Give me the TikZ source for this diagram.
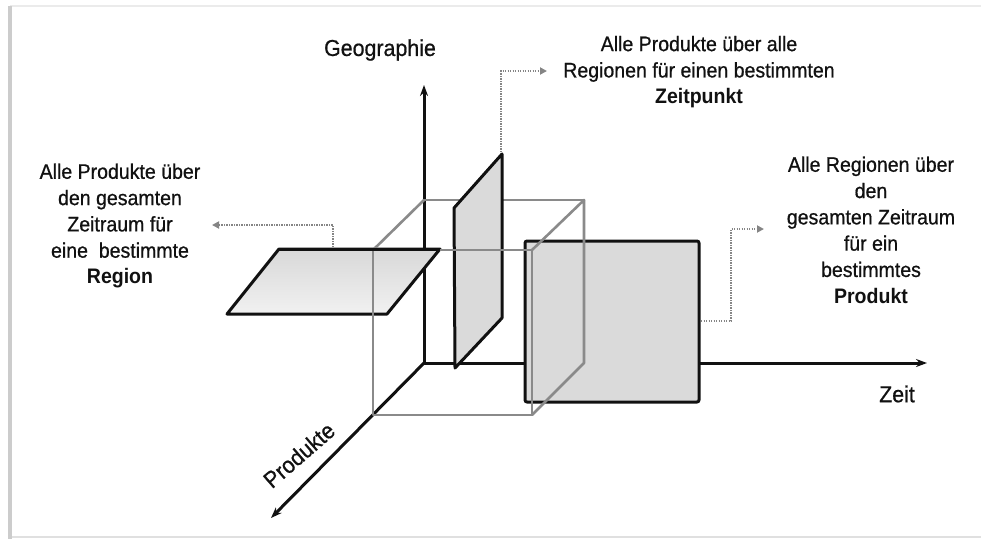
\documentclass[tikz,border=0pt]{standalone}
\usepackage{fontspec}
\setmainfont{Liberation Sans}[FakeStretch=0.93, UprightFeatures={FakeBold=0.7}]
\usetikzlibrary{arrows.meta}
\definecolor{edgegray}{HTML}{8A8A8A}
\definecolor{slicefill}{HTML}{DADADA}
\definecolor{slicetop}{HTML}{D8D8D8}
\definecolor{slicebot}{HTML}{F1F1F1}
\definecolor{dotgray}{HTML}{858585}
\definecolor{inkblack}{HTML}{111111}
\tikzset{
  axisline/.style={draw=inkblack, line width=3pt, -{Stealth[length=11pt,width=8pt]}},
  cubeedge/.style={draw=edgegray, line width=2.6pt, line cap=round, line join=round},
  slicebox/.style={draw=inkblack, line width=3pt, line join=round},
  dotconn/.style={draw=dotgray, line width=1.8pt, dash pattern=on 1.4pt off 1.1pt, -{Triangle[length=7pt,width=7pt]}},
  lbl/.style={text=inkblack, align=center, inner sep=0pt, font=\fontsize{21}{26.3}\selectfont},
  axislbl/.style={text=inkblack, inner sep=0pt, font=\fontsize{23}{26}\selectfont}
}
\begin{document}
\begin{tikzpicture}[x=1pt,y=-1pt]
\useasboundingbox (0,0) rectangle (981,539);
\fill[white] (0,0) rectangle (981,539);

% sheet edges
\draw[draw=black!8, line width=2pt] (10,6) -- (981,6);
\draw[draw=black!12, line width=1.5pt] (10,537) -- (981,537);
\fill[black!20] (8,6) rectangle (11.5,539);

% axes
\coordinate (O) at (424,363);
\coordinate (geoTip) at (424,85);
\coordinate (zeitTip) at (927,363);
\coordinate (prodTip) at (271,518);
\draw[axisline] (O) -- (geoTip);
\draw[axisline] (O) -- (zeitTip);
\draw[axisline] (O) -- (prodTip);

% cube corners
\coordinate (F1) at (373,250);
\coordinate (F2) at (532,250);
\coordinate (F3) at (532,415);
\coordinate (F4) at (373,415);
\coordinate (B1) at (424,200);
\coordinate (B2) at (584,200);
\coordinate (B3) at (584,363);

% hidden part of the back face
\draw[cubeedge] (B1) -- (B2);

% slice for one point in time
\coordinate (V1) at (454,208);
\coordinate (V2) at (502,154);
\coordinate (V3) at (502,318);
\coordinate (V4) at (455,368);
\draw[slicebox, fill=slicefill] (V1) -- (V2) -- (V3) -- (V4) -- cycle;

% slice for one product
\coordinate (R1) at (525,241);
\coordinate (R2) at (699,402);
\draw[slicebox, fill=slicefill, rounded corners=2pt] (R1) rectangle (R2);

% slice for one region
\coordinate (H1) at (279,249);
\coordinate (H2) at (440,249);
\coordinate (H3) at (387,314);
\coordinate (H4) at (227,314);
\shade[top color=slicetop, bottom color=slicebot] (H1) -- (H2) -- (H3) -- (H4) -- cycle;
\draw[slicebox] (H1) -- (H2) -- (H3) -- (H4) -- cycle;

% visible cube edges
\draw[cubeedge] (F1) -- (F2) -- (F3) -- (F4) -- cycle;
\draw[cubeedge] (F1) -- (B1);
\draw[cubeedge] (F2) -- (B2) -- (B3) -- (F3);
\draw[slicebox] (H1) -- (H2);

% labels
\node[axislbl] (geo) at (380,50) {Geographie};
\node[axislbl] (zeit) at (897,394) {Zeit};
\node[axislbl, rotate=41] (prod) at (299,455) {Produkte};

\node[lbl] (txtTime) at (699,72) {Alle Produkte über alle\\Regionen für einen bestimmten\\\textbf{Zeitpunkt}};
\node[lbl] (txtRegion) at (120,226) {Alle Produkte über\\den gesamten\\Zeitraum für\\eine\ \ bestimmte\\\textbf{Region}};
\node[lbl] (txtProduct) at (871,230) {Alle Regionen über\\den\\gesamten Zeitraum\\für ein\\bestimmtes\\\textbf{Produkt}};

% dotted leaders from the slices to their captions
\coordinate (regStart) at (333,247);
\coordinate (regBend) at (333,225);
\coordinate (regEnd) at (212,225);
\draw[dotconn] (regStart) -- (regBend) -- (regEnd);

\coordinate (timeStart) at (501,152);
\coordinate (timeBend) at (501,71);
\coordinate (timeEnd) at (547,71);
\draw[dotconn] (timeStart) -- (timeBend) -- (timeEnd);

\coordinate (prodStart) at (701,321);
\coordinate (prodBend1) at (731,321);
\coordinate (prodBend2) at (731,229);
\coordinate (prodEnd) at (764,229);
\draw[dotconn] (prodStart) -- (prodBend1) -- (prodBend2) -- (prodEnd);
\end{tikzpicture}
\end{document}
